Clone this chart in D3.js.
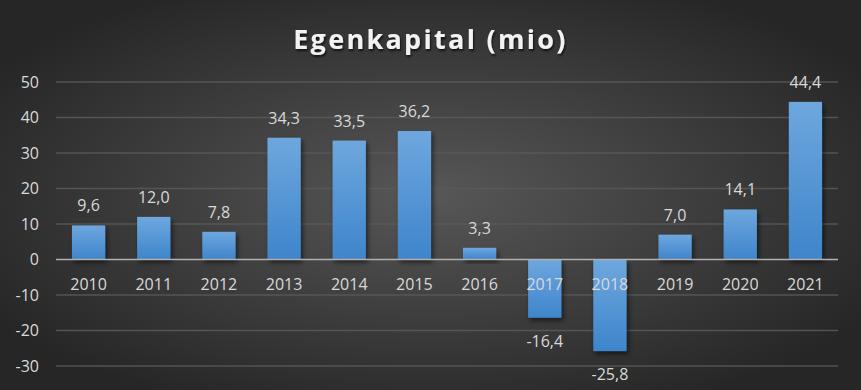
<!DOCTYPE html>
<html>
<head>
<meta charset="utf-8">
<script src="https://cdn.jsdelivr.net/npm/d3@7/dist/d3.min.js"></script>
<style>
  body { margin: 0; background: #262626; }
  svg { display: block; }
</style>
</head>
<body>
<div id="chart"></div>
<script>
// chart data
var years = ["2010", "2011", "2012", "2013", "2014", "2015", "2016", "2017", "2018", "2019", "2020", "2021"];
var values = [9.6, 12.0, 7.8, 34.3, 33.5, 36.2, 3.3, -16.4, -25.8, 7.0, 14.1, 44.4];
var yTicks = [-30, -20, -10, 0, 10, 20, 30, 40, 50];
var title = "Egenkapital (mio)";

(function () {
    var W = 861, H = 390;
    var margin = { top: 82, right: 23, bottom: 24, left: 56 },
        width = W - margin.left - margin.right,
        height = H - margin.top - margin.bottom;

    var svg = d3.select("#chart").append("svg")
        .attr("width", W)
        .attr("height", H);

    var defs = svg.append("defs");

    // background radial gradient
    var bg = defs.append("radialGradient")
        .attr("id", "bg")
        .attr("cx", "50%").attr("cy", "50%").attr("r", "60%");
    bg.append("stop").attr("offset", "0%").attr("stop-color", "#575757");
    bg.append("stop").attr("offset", "100%").attr("stop-color", "#262626");

    var barGrad = defs.append("linearGradient")
        .attr("id", "barGrad")
        .attr("x1", 0).attr("y1", 0).attr("x2", 0).attr("y2", 1);
    barGrad.append("stop").attr("offset", "0%").attr("stop-color", "#6ea7de");
    barGrad.append("stop").attr("offset", "100%").attr("stop-color", "#3e85cb");

    var shadow = defs.append("filter").attr("id", "shadow")
        .attr("x", "-30%").attr("y", "-30%").attr("width", "160%").attr("height", "160%");
    shadow.append("feDropShadow")
        .attr("dx", 2).attr("dy", 3).attr("stdDeviation", 2.5)
        .attr("flood-color", "#000").attr("flood-opacity", 0.55);

    var tshadow = defs.append("filter").attr("id", "tshadow")
        .attr("x", "-10%").attr("y", "-30%").attr("width", "120%").attr("height", "160%");
    tshadow.append("feDropShadow")
        .attr("dx", 1).attr("dy", 2).attr("stdDeviation", 1.2)
        .attr("flood-color", "#000").attr("flood-opacity", 0.7);

    svg.append("rect")
        .attr("width", W).attr("height", H)
        .attr("fill", "url(#bg)");

    // title
    svg.append("text")
        .attr("x", W / 2)
        .attr("y", 49)
        .attr("text-anchor", "middle")
        .style("font-family", "'Open Sans', sans-serif")
        .style("font-size", "27px")
        .style("font-weight", 700)
        .style("letter-spacing", "2.3px")
        .style("fill", "#f2f2f2")
        .attr("filter", "url(#tshadow)")
        .text(title);

    var g = svg.append("g")
        .attr("transform", "translate(" + margin.left + "," + margin.top + ")");

    var x = d3.scaleBand()
        .domain(years)
        .range([0, width])
        .paddingInner(0.49)
        .paddingOuter(0.245);

    var y = d3.scaleLinear()
        .domain([-30, 50])
        .range([height, 0]);

    // gridlines
    g.selectAll(".grid")
        .data(yTicks.filter(function (d) { return d !== 0; }))
        .enter().append("line")
        .attr("class", "grid")
        .attr("x1", 0).attr("x2", width)
        .attr("y1", function (d) { return y(d); })
        .attr("y2", function (d) { return y(d); })
        .attr("stroke", "#5a5a5a")
        .attr("stroke-opacity", 0.85)
        .attr("stroke-width", 1.3);

    // y axis
    var yAxis = d3.axisLeft(y).tickValues(yTicks).tickSize(0).tickPadding(17)
        .tickFormat(function (d) { return d; });
    var ya = g.append("g").call(yAxis);
    ya.select(".domain").remove();
    ya.selectAll("text")
        .style("font-family", "'Open Sans', sans-serif")
        .style("font-size", "16px")
        .style("fill", "#d9d9d9");

    // bars
    g.selectAll(".bar")
        .data(values)
        .enter().append("rect")
        .attr("class", "bar")
        .attr("x", function (d, i) { return x(years[i]); })
        .attr("width", x.bandwidth())
        .attr("y", function (d) { return y(Math.max(0, d)); })
        .attr("height", function (d) { return Math.abs(y(d) - y(0)); })
        .attr("fill", "url(#barGrad)")
        .attr("filter", "url(#shadow)");

    // zero line
    g.append("line")
        .attr("x1", 0).attr("x2", width)
        .attr("y1", y(0)).attr("y2", y(0))
        .attr("stroke", "#b0b0b0")
        .attr("stroke-width", 1.6);

    // category labels
    g.selectAll(".cat")
        .data(years)
        .enter().append("text")
        .attr("class", "cat")
        .attr("x", function (d) { return x(d) + x.bandwidth() / 2; })
        .attr("y", y(0) + 30)
        .attr("text-anchor", "middle")
        .style("font-family", "'Open Sans', sans-serif")
        .style("font-size", "16px")
        .style("fill", "#d9d9d9")
        .text(function (d) { return d; });

    // data labels
    var fmt = function (d) { return d3.format(".1f")(d).replace(".", ",").replace("−", "-"); };
    g.selectAll(".lbl")
        .data(values)
        .enter().append("text")
        .attr("class", "lbl")
        .attr("x", function (d, i) { return x(years[i]) + x.bandwidth() / 2; })
        .attr("y", function (d) { return d >= 0 ? y(d) - 14 : y(d) + 29; })
        .attr("text-anchor", "middle")
        .style("font-family", "'Open Sans', sans-serif")
        .style("font-size", "16px")
        .style("fill", "#d9d9d9")
        .text(fmt);
})();
</script>
</body>
</html>
